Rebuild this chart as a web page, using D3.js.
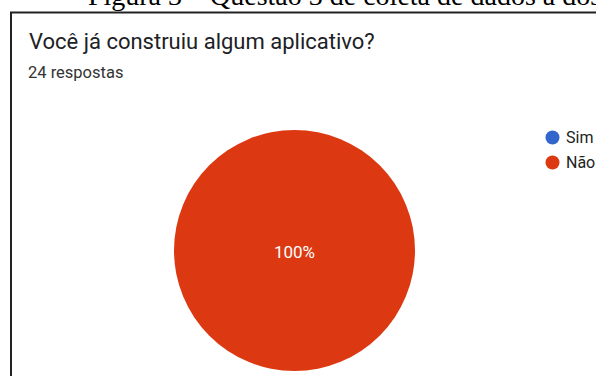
<!DOCTYPE html>
<html lang="pt">
<head>
    <meta charset="UTF-8">
    <title>Você já construiu algum aplicativo?</title>
    <style>
        body {
            margin: 0;
            background-color: #fff;
        }
        svg {
            display: block;
        }
        .caption {
            font-family: "Liberation Serif", "DejaVu Serif", serif;
            font-size: 28px;
            fill: #000;
        }
        .title {
            font-family: Roboto, "Noto Sans", sans-serif;
            font-size: 22px;
            fill: #202124;
        }
        .subtitle {
            font-family: Roboto, "Noto Sans", sans-serif;
            font-size: 16.5px;
            fill: #333;
        }
        .legend text {
            font-family: Roboto, "Noto Sans", sans-serif;
            font-size: 16px;
            fill: #222;
        }
        .slice-label {
            font-family: Roboto, Arial, sans-serif;
            font-size: 17px;
            fill: #fff;
        }
    </style>
    <script src="https://d3js.org/d3.v7.min.js"></script>
</head>
<body>
    <div id="chart"></div>

    <script>
        const categories = ["Sim", "Não"];
        const counts = [0, 24];
        const colors = ["#3366cc", "#dc3912"];

        const width = 596;
        const height = 376;

        const svg = d3.select("#chart")
            .append("svg")
            .attr("width", width)
            .attr("height", height);

        // caption of the figure, mostly cut off by the crop
        const caption = svg.append("text")
            .attr("class", "caption")
            .attr("y", 5);
        const capHead = caption.append("tspan").text("Figura 3 – ");
        caption.append("tspan").text("Questão 3 de coleta de dados a dos alunos");
        // "Questão" starts at about x = 210
        caption.attr("x", 210 - capHead.node().getComputedTextLength());

        // frame of the forms card
        svg.append("path")
            .attr("d", `M11,${height} V12.5 H${width}`)
            .attr("fill", "none")
            .attr("stroke", "#222")
            .attr("stroke-width", 2);

        svg.append("text")
            .attr("class", "title")
            .attr("x", 29)
            .attr("y", 49)
            .text("Você já construiu algum aplicativo?");

        svg.append("text")
            .attr("class", "subtitle")
            .attr("x", 28)
            .attr("y", 78)
            .text(d3.sum(counts) + " respostas");

        const cx = 294.5, cy = 250.5, radius = 120.5;

        const data = categories.map((c, i) => ({ name: c, value: counts[i], color: colors[i] }));

        const pie = d3.pie().sort(null).value(d => d.value);
        const arc = d3.arc().innerRadius(0).outerRadius(radius);
        const total = d3.sum(counts);

        const g = svg.append("g").attr("transform", `translate(${cx},${cy})`);

        g.selectAll("path")
            .data(pie(data).filter(d => d.data.value > 0))
            .enter().append("path")
            .attr("d", arc)
            .attr("fill", d => d.data.color);

        g.selectAll("text")
            .data(pie(data).filter(d => d.data.value > 0))
            .enter().append("text")
            .attr("class", "slice-label")
            .attr("text-anchor", "middle")
            .attr("dy", "0.35em")
            .attr("transform", d => {
                if (d.endAngle - d.startAngle >= 2 * Math.PI - 1e-6) return "translate(0,2)";
                const c = d3.arc().innerRadius(radius * 0.6).outerRadius(radius * 0.6).centroid(d);
                return `translate(${c})`;
            })
            .text(d => Math.round(d.data.value / total * 100) + "%");

        const legend = svg.append("g").attr("class", "legend");
        const item = legend.selectAll("g")
            .data(data)
            .enter().append("g")
            .attr("transform", (d, i) => `translate(552.5,${137.5 + i * 25})`);

        item.append("circle")
            .attr("r", 7)
            .attr("fill", d => d.color);

        item.append("text")
            .attr("x", 13.5)
            .attr("dy", "0.35em")
            .text(d => d.name);
    </script>
</body>
</html>
